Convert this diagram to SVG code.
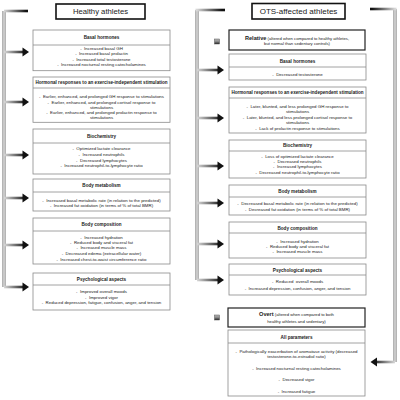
<svg xmlns="http://www.w3.org/2000/svg" width="400" height="400" viewBox="0 0 400 400">
<defs>
<linearGradient id="gL" gradientUnits="userSpaceOnUse" x1="4" y1="0" x2="26" y2="0"><stop offset="0" stop-color="#d8d8d8"/><stop offset="1" stop-color="#111"/></linearGradient>
<linearGradient id="gR" gradientUnits="userSpaceOnUse" x1="197" y1="0" x2="222" y2="0"><stop offset="0" stop-color="#d8d8d8"/><stop offset="1" stop-color="#111"/></linearGradient>
<linearGradient id="gB" gradientUnits="userSpaceOnUse" x1="395" y1="0" x2="372" y2="0"><stop offset="0" stop-color="#d8d8d8"/><stop offset="1" stop-color="#111"/></linearGradient>
<linearGradient id="gI" x1="0" y1="0" x2="0" y2="1"><stop offset="0" stop-color="#bbb"/><stop offset="0.5" stop-color="#888"/><stop offset="1" stop-color="#222"/></linearGradient>
<style>
.box{fill:#fff;stroke:#8a8a8a;stroke-width:0.8}
.bold{fill:#fff;stroke:#222;stroke-width:1.2}
.ttlb{fill:#fff;stroke:#111;stroke-width:1.6}
.sep{stroke:#8a8a8a;stroke-width:0.8}
text{font-family:"Liberation Sans",Arial,sans-serif;fill:#1a1a1a;text-anchor:middle}
.t{font-size:4.4px}
.h{font-size:4.6px;font-weight:bold}
.ttl{font-size:7.7px}
.big{font-size:5.6px;font-weight:bold}
.sm{font-size:4.2px;font-weight:normal}
.vl{fill:none;stroke:#c8c8c8;stroke-width:2.6}
.vo{fill:none;stroke:#8a8a8a;stroke-width:3.4}
.al{fill:none;stroke:url(#gL);stroke-width:2.6}
.ar{fill:none;stroke:url(#gR);stroke-width:2.6}
.ab{fill:none;stroke:url(#gB);stroke-width:2.6}
.hd{fill:#111}
.icon{fill:url(#gI);stroke:#555;stroke-width:0.5}
</style>
</defs>

<g id="connectors">
<path class="vo" d="M4,11 V287"/>
<path class="vl" d="M4,11 V287"/>
<path class="al" d="M4,11 H28"/>
<path class="al" d="M4,52 H23"/><polygon class="hd" points="22.5,47.5 29,52 22.5,56.5"/>
<path class="al" d="M4,102 H23"/><polygon class="hd" points="22.5,97.5 29,102 22.5,106.5"/>
<path class="al" d="M4,155 H23"/><polygon class="hd" points="22.5,150.5 29,155 22.5,159.5"/>
<path class="al" d="M4,198 H23"/><polygon class="hd" points="22.5,193.5 29,198 22.5,202.5"/>
<path class="al" d="M4,245 H23"/><polygon class="hd" points="22.5,240.5 29,245 22.5,249.5"/>
<path class="al" d="M4,287 H23"/><polygon class="hd" points="22.5,282.5 29,287 22.5,291.5"/>

<path class="vo" d="M197,10 V280"/>
<path class="vl" d="M197,10 V280"/>
<path class="ar" d="M195.5,10 H225"/>
<path class="ar" d="M197,70 H218"/><polygon class="hd" points="217.5,65.5 224,70 217.5,74.5"/>
<path class="ar" d="M197,118 H218"/><polygon class="hd" points="217.5,113.5 224,118 217.5,122.5"/>
<path class="ar" d="M197,166 H218"/><polygon class="hd" points="217.5,161.5 224,166 217.5,170.5"/>
<path class="ar" d="M197,203 H218"/><polygon class="hd" points="217.5,198.5 224,203 217.5,207.5"/>
<path class="ar" d="M197,244 H218"/><polygon class="hd" points="217.5,239.5 224,244 217.5,248.5"/>
<path class="ar" d="M197,280 H218"/><polygon class="hd" points="217.5,275.5 224,280 217.5,284.5"/>

<path class="vo" d="M395,9 V362"/>
<path class="vl" d="M395,9 V362"/>
<path class="ab" d="M396.5,9 H370"/>
<path class="ab" d="M395,362 H376"/><polygon class="hd" points="377,357.5 370.5,362 377,366.5"/>
</g>

<g id="title-healthy">
<rect class="ttlb" x="56" y="4" width="89" height="15"/>
<text class="ttl" x="100.5" y="14.3">Healthy athletes</text>
</g>
<g id="title-ots">
<rect class="ttlb" x="252" y="3.5" width="93" height="15.5"/>
<text class="ttl" x="298.5" y="14.3" style="font-size:8px">OTS-affected athletes</text>
</g>

<g id="h-basal">
<rect class="box" x="33" y="30" width="137" height="40.7"/>
<line class="sep" x1="33" y1="45" x2="170" y2="45"/>
<text class="h" x="101.5" y="39.3">Basal hormones</text>
<text class="t" x="101.5" y="50">-&#160;&#160;Increased basal GH</text>
<text class="t" x="101.5" y="55.2">-&#160;&#160;Increased basal prolactin</text>
<text class="t" x="101.5" y="60.6">-&#160;&#160;Increased total testosterone</text>
<text class="t" x="101.5" y="66.4">-&#160;&#160;Increased nocturnal resting catecholamines</text>
</g>

<g id="h-hormonal">
<rect class="box" x="33" y="77" width="137" height="45.3"/>
<line class="sep" x1="33" y1="88" x2="170" y2="88"/>
<text class="h" x="101.5" y="84.2">Hormonal responses to an exercise-independent stimulation</text>
<text class="t" x="101.5" y="98.4">-&#160;&#160;Earlier, enhanced, and prolonged GH response to stimulations</text>
<text class="t" x="101.5" y="103.5">-&#160;&#160;Earlier, enhanced, and prolonged cortisol response to</text>
<text class="t" x="101.5" y="108.7">stimulations</text>
<text class="t" x="101.5" y="113.9">-&#160;&#160;Earlier, enhanced, and prolonged prolactin response to</text>
<text class="t" x="101.5" y="119.1">stimulations</text>
</g>

<g id="h-biochem">
<rect class="box" x="33" y="129" width="137" height="45"/>
<line class="sep" x1="33" y1="143" x2="170" y2="143"/>
<text class="h" x="101.5" y="138.3">Biochemistry</text>
<text class="t" x="101.5" y="150">-&#160;&#160;Optimized lactate clearance</text>
<text class="t" x="101.5" y="155.8">-&#160;&#160;Increased neutrophils</text>
<text class="t" x="101.5" y="161.5">-&#160;&#160;Decreased lymphocytes</text>
<text class="t" x="101.5" y="167.3">-&#160;&#160;Increased neutrophil-to-lymphocyte ratio</text>
</g>

<g id="h-metab">
<rect class="box" x="33" y="179" width="137" height="32"/>
<line class="sep" x1="33" y1="192" x2="170" y2="192"/>
<text class="h" x="101.5" y="187.3">Body metabolism</text>
<text class="t" x="101.5" y="201.6">-&#160;&#160;Increased basal metabolic rate (in relation to the predicted)</text>
<text class="t" x="101.5" y="207.3">-&#160;&#160;Increased fat oxidation (in terms of % of total BMR)</text>
</g>

<g id="h-comp">
<rect class="box" x="33" y="218" width="137" height="46"/>
<line class="sep" x1="33" y1="231" x2="170" y2="231"/>
<text class="h" x="101.5" y="225.6">Body composition</text>
<text class="t" x="101.5" y="239">-&#160;&#160;Increased hydration</text>
<text class="t" x="101.5" y="244.3">-&#160;&#160;Reduced body and visceral fat</text>
<text class="t" x="101.5" y="249.4">-&#160;&#160;Increased muscle mass</text>
<text class="t" x="101.5" y="255">-&#160;&#160;Decreased edema (extracellular water)</text>
<text class="t" x="101.5" y="260.6">-&#160;&#160;Increased chest-to-waist circumference ratio</text>
</g>

<g id="h-psych">
<rect class="box" x="33" y="273" width="137" height="37"/>
<line class="sep" x1="33" y1="285" x2="170" y2="285"/>
<text class="h" x="101.5" y="281">Psychological aspects</text>
<text class="t" x="101.5" y="293.3">-&#160;&#160;Improved overall moods</text>
<text class="t" x="101.5" y="298.6">-&#160;&#160;Improved vigor</text>
<text class="t" x="101.5" y="304">-&#160;&#160;Reduced depression, fatigue, confusion, anger, and tension</text>
</g>

<g id="o-relative">
<rect class="icon" x="214.5" y="39" width="5" height="5"/>
<rect class="bold" x="229" y="30" width="136" height="20"/>
<text x="297" y="40"><tspan class="big">Relative</tspan><tspan class="sm"> (altered when compared to healthy athletes,</tspan></text>
<text class="t" x="297" y="45.2" style="font-size:4.2px">but normal than sedentary controls)</text>
</g>

<g id="o-basal">
<rect class="box" x="229" y="54" width="137" height="26"/>
<line class="sep" x1="229" y1="67" x2="366" y2="67"/>
<text class="h" x="297.5" y="63.3">Basal hormones</text>
<text class="t" x="297.5" y="75.6">-&#160;&#160;Decreased testosterone</text>
</g>

<g id="o-hormonal">
<rect class="box" x="229" y="87" width="137" height="46"/>
<line class="sep" x1="229" y1="98" x2="366" y2="98"/>
<text class="h" x="297.5" y="94">Hormonal responses to an exercise-independent stimulation</text>
<text class="t" x="297.5" y="107.6">-&#160;&#160;Later, blunted, and less prolonged GH response to</text>
<text class="t" x="297.5" y="112.6">stimulations</text>
<text class="t" x="297.5" y="119">-&#160;&#160;Later, blunted, and less prolonged cortisol response to</text>
<text class="t" x="297.5" y="124">stimulations</text>
<text class="t" x="297.5" y="130">-&#160;&#160;Lack of prolactin response to stimulations</text>
</g>

<g id="o-biochem">
<rect class="box" x="229" y="140" width="137" height="38"/>
<line class="sep" x1="229" y1="151" x2="366" y2="151"/>
<text class="h" x="297.5" y="147.3">Biochemistry</text>
<text class="t" x="297.5" y="157.6">-&#160;&#160;Loss of optimized lactate clearance</text>
<text class="t" x="297.5" y="163.3">-&#160;&#160;Decreased neutrophils</text>
<text class="t" x="297.5" y="168.3">-&#160;&#160;Increased lymphocytes</text>
<text class="t" x="297.5" y="174">-&#160;&#160;Decreased neutrophil-to-lymphocyte ratio</text>
</g>

<g id="o-metab">
<rect class="box" x="229" y="185" width="137" height="30"/>
<line class="sep" x1="229" y1="197" x2="366" y2="197"/>
<text class="h" x="297.5" y="192.6">Body metabolism</text>
<text class="t" x="297.5" y="205">-&#160;&#160;Decreased basal metabolic rate (in relation to the predicted)</text>
<text class="t" x="297.5" y="210.6">-&#160;&#160;Decreased fat oxidation (in terms of % of total BMR)</text>
</g>

<g id="o-comp">
<rect class="box" x="229" y="222" width="137" height="36"/>
<line class="sep" x1="229" y1="233" x2="366" y2="233"/>
<text class="h" x="297.5" y="229.8">Body composition</text>
<text class="t" x="297.5" y="242.6">-&#160;&#160;Increased hydration</text>
<text class="t" x="297.5" y="248.3">-&#160;&#160;Reduced body and visceral fat</text>
<text class="t" x="297.5" y="253.3">-&#160;&#160;Increased muscle mass</text>
</g>

<g id="o-psych">
<rect class="box" x="229" y="264" width="137" height="31"/>
<line class="sep" x1="229" y1="275" x2="366" y2="275"/>
<text class="h" x="297.5" y="271.6">Psychological aspects</text>
<text class="t" x="297.5" y="283.3">-&#160;&#160;Reduced&#160;&#160;overall moods</text>
<text class="t" x="297.5" y="290">-&#160;&#160;Increased depression, confusion, anger, and tension</text>
</g>

<g id="o-overt">
<rect class="icon" x="214.5" y="315" width="5" height="5"/>
<rect class="bold" x="228" y="308" width="137" height="19"/>
<text x="296.5" y="316.2"><tspan class="big">Overt</tspan><tspan class="sm"> (altered when compared to both</tspan></text>
<text class="t" x="296.5" y="323.4" style="font-size:4.2px">healthy athletes and sedentary)</text>
</g>

<g id="o-all">
<rect class="box" x="228" y="330" width="137" height="66"/>
<line class="sep" x1="228" y1="343" x2="365" y2="343"/>
<text class="h" x="296.5" y="339">All parameters</text>
<text class="t" x="296.5" y="353.3">-&#160;&#160;Pathologically exacerbation of aromatase activity (decreased</text>
<text class="t" x="296.5" y="358">testosterone-to-estradiol ratio)</text>
<text class="t" x="296.5" y="370">-&#160;&#160;Increased nocturnal resting catecholamines</text>
<text class="t" x="296.5" y="381">-&#160;&#160;Decreased vigor</text>
<text class="t" x="296.5" y="392.6">-&#160;&#160;Increased fatigue</text>
</g>
</svg>
